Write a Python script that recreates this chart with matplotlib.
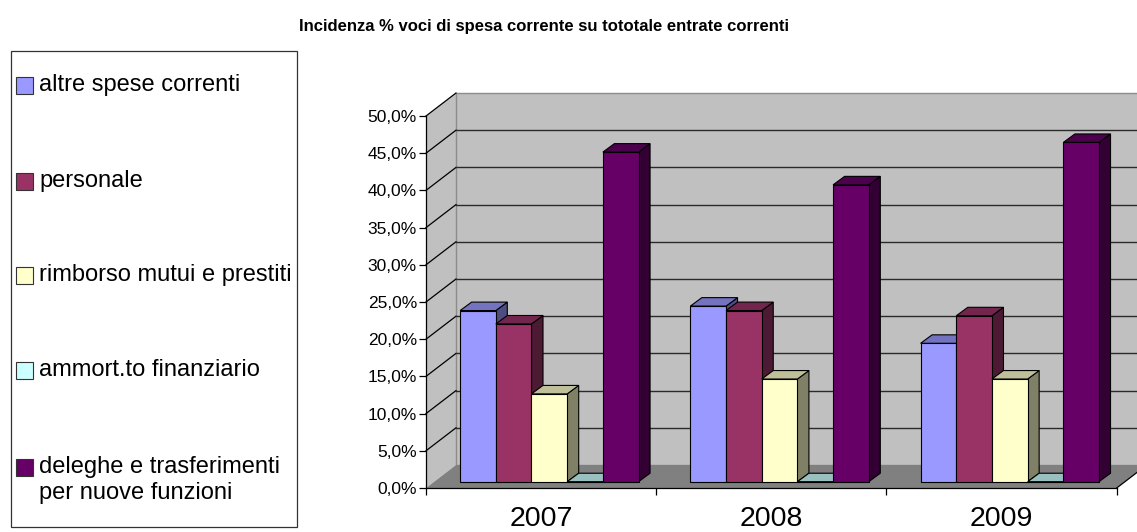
import matplotlib
matplotlib.use("Agg")
import matplotlib.pyplot as plt
from matplotlib.patches import Polygon, Rectangle
from matplotlib.ticker import FixedLocator, FuncFormatter

plt.rcParams['font.family'] = ['Liberation Sans', 'DejaVu Sans']

# ---------------- data ----------------
title = "Incidenza % voci di spesa corrente su tototale entrate correnti"
years = ["2007", "2008", "2009"]
series_names = ["altre spese correnti", "personale", "rimborso mutui e prestiti",
                "ammort.to finanziario", "deleghe e trasferimenti\nper nuove funzioni"]
altre_spese = [23.0, 23.6, 18.6]
personale = [21.2, 23.0, 22.3]
rimborso_mutui = [11.8, 13.8, 13.8]
ammortamento = [0.0, 0.0, 0.0]
deleghe = [44.3, 39.9, 45.6]
y_ticks = [0, 5, 10, 15, 20, 25, 30, 35, 40, 45, 50]

series_values = [altre_spese, personale, rimborso_mutui, ammortamento, deleghe]
front_colors = ["#9999FF", "#993366", "#FFFFCC", "#CCFFFF", "#660066"]
top_colors = ["#7373BF", "#73264D", "#BFBF99", "#99BFBF", "#4D004D"]
side_colors = ["#4D4D80", "#4D1A33", "#808066", "#668080", "#330033"]

# ---------------- figure ----------------
W, H = 1137, 532
fig = plt.figure(figsize=(W / 100, H / 100), dpi=100)

# plot area (front plane): x 426..1116.7 px, y 488 (0%) .. 116 (50%)
ax = fig.add_axes([426 / W, (H - 488) / H, 690.7 / W, 372 / H])
ax.set_xlim(0, 3)
ax.set_ylim(0, 50)
ax.patch.set_visible(False)

DX = 30 / 230.23      # wall depth in x data units
DY = 23 / 7.44        # wall depth in y data units (%)

wall_c = "#C0C0C0"
floor_c = "#808080"

# side wall
ax.add_patch(Polygon([(0, 0), (DX, DY), (DX, 50 + DY), (0, 50)], closed=True,
                     facecolor=wall_c, edgecolor="none", clip_on=False, zorder=1))
# back wall
ax.add_patch(Rectangle((DX, DY), 3, 50, facecolor=wall_c, edgecolor="#8C8C8C",
                       lw=1.0, clip_on=False, zorder=1))
# floor
ax.add_patch(Polygon([(0, 0), (3, 0), (3 + DX, DY), (DX, DY)], closed=True,
                     facecolor=floor_c, edgecolor="none", clip_on=False, zorder=2))
ax.plot([3, 3 + DX], [0, DY], color="black", lw=0.9, clip_on=False, zorder=2)

# gridlines
for t in y_ticks:
    if t == 0:
        continue
    ax.plot([0, DX], [t, t + DY], color="black", lw=0.9, clip_on=False, zorder=2)
    if t < 50:
        ax.plot([DX, 3 + DX], [t + DY, t + DY], color="#2a2a2a", lw=1.0,
                clip_on=False, zorder=2)

# bars
nser = len(series_values)
bw = 0.155
f = 0.274
bdx = 0.05
bdy = 1.14
start = 0.5 - nser * bw / 2
for c in range(len(years)):
    for i in range(nser):
        v = series_values[i][c]
        x0 = c + start + i * bw + f * DX
        y0 = f * DY
        z = 3 + c * 0.1 + i * 0.01
        # side face
        ax.add_patch(Polygon([(x0 + bw, y0), (x0 + bw + bdx, y0 + bdy),
                              (x0 + bw + bdx, y0 + v + bdy), (x0 + bw, y0 + v)],
                             closed=True, facecolor=side_colors[i], edgecolor="black",
                             lw=0.8, clip_on=False, zorder=z))
        # top face
        ax.add_patch(Polygon([(x0, y0 + v), (x0 + bw, y0 + v),
                              (x0 + bw + bdx, y0 + v + bdy), (x0 + bdx, y0 + v + bdy)],
                             closed=True, facecolor=top_colors[i], edgecolor="black",
                             lw=0.8, clip_on=False, zorder=z + 0.001))
        # front face
        ax.add_patch(Rectangle((x0, y0), bw, v, facecolor=front_colors[i],
                               edgecolor="black", lw=0.8, clip_on=False,
                               zorder=z + 0.002))

# axes styling
for s in ["top", "right"]:
    ax.spines[s].set_visible(False)
for s in ["left", "bottom"]:
    ax.spines[s].set_color("black")
    ax.spines[s].set_linewidth(0.9)
    ax.spines[s].set_zorder(10)

ax.yaxis.set_major_locator(FixedLocator(y_ticks))
ax.yaxis.set_major_formatter(FuncFormatter(lambda v, p: f"{v:.1f}%".replace(".", ",")))
ax.tick_params(axis="y", direction="out", length=5, width=0.9, pad=1.5,
               labelsize=12.5, colors="black")

ax.xaxis.set_major_locator(FixedLocator([0, 1, 2, 3]))
ax.xaxis.set_major_formatter(FuncFormatter(lambda v, p: ""))
ax.xaxis.set_minor_locator(FixedLocator([0.5, 1.5, 2.5]))
ax.xaxis.set_minor_formatter(FuncFormatter(lambda v, p: years[int(v)]))
ax.tick_params(axis="x", which="major", direction="out", length=5, width=0.9)
ax.tick_params(axis="x", which="minor", length=0, pad=13, labelsize=20.5)

# title
fig.text(544 / W, 1 - 26 / H, title, ha="center", va="center",
         fontsize=12, fontweight="bold")

# legend (manual)
lax = fig.add_axes([0, 0, 1, 1])
lax.set_xlim(0, W)
lax.set_ylim(H, 0)
lax.axis("off")
lax.add_patch(Rectangle((11, 51), 286, 476, facecolor="white", edgecolor="#333333", lw=0.9))
entry_y = [85, 181.5, 275, 370, 467]
for i, name in enumerate(series_names):
    y = entry_y[i]
    lax.add_patch(Rectangle((16, y - 8.5), 17, 17, facecolor=front_colors[i],
                            edgecolor="#333333", lw=0.8))
    lines = name.split("\n")
    for k, ln in enumerate(lines):
        lax.text(39, y + k * 26.5, ln, ha="left", va="center", fontsize=17)

fig.savefig("out.png", dpi=100)
